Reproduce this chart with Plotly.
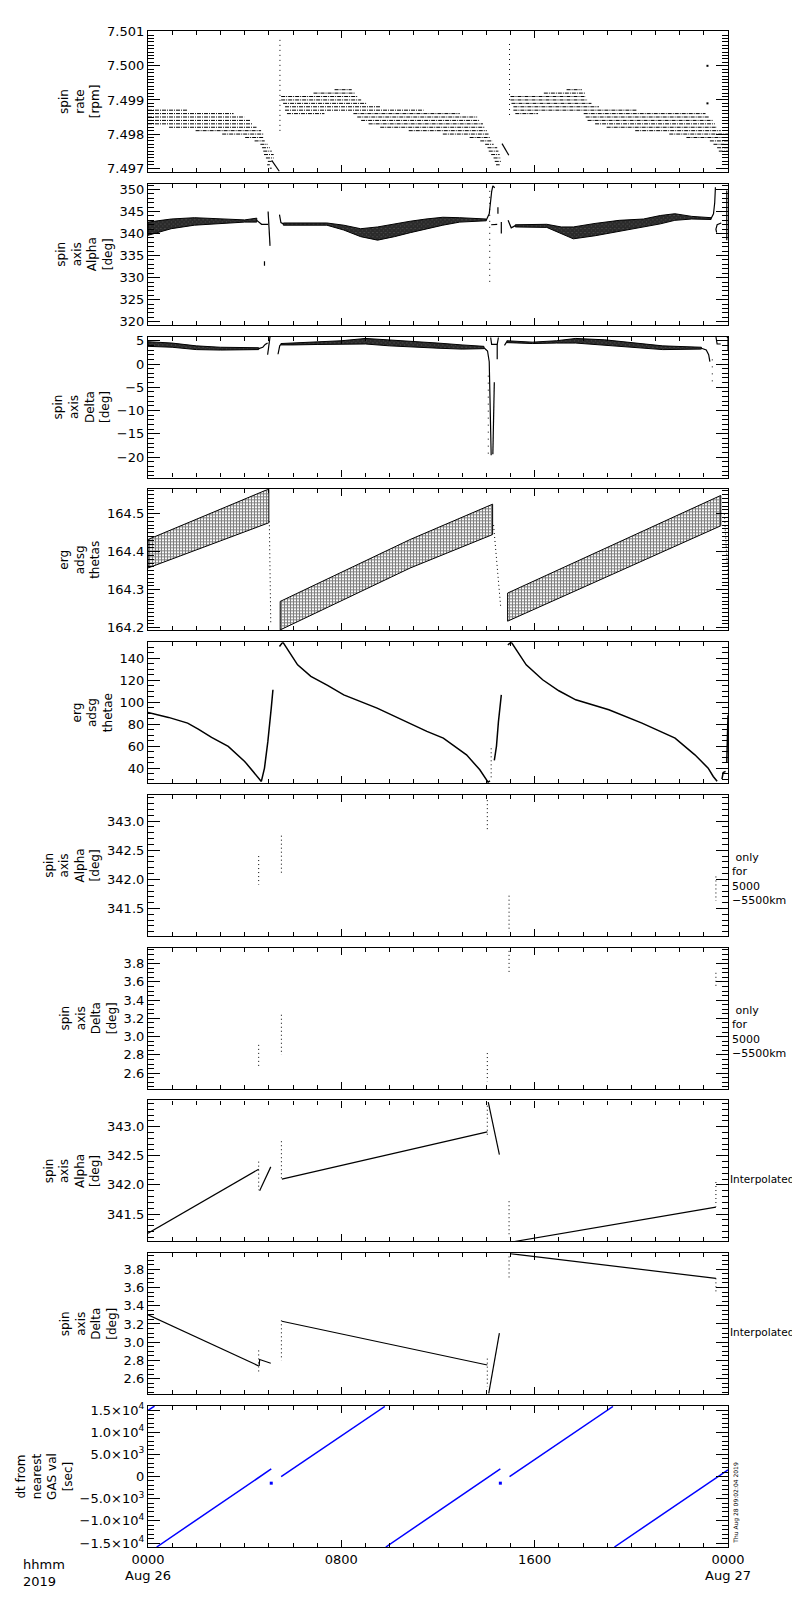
import plotly.graph_objects as go
from plotly.subplots import make_subplots

# ---- data (time in hours from 0000 Aug 26) ---------------------------------

HOUR_TICKS = [0, 8, 16, 24]
HOUR_TEXT = ["0000", "0800", "1600", "0000"]
DATE_TEXT = ["Aug 26", "", "", "Aug 27"]

# panel 1: spin rate, quantised rows (level, start, end)
SR_LEVEL = [7.4987, 7.4986, 7.4985, 7.4984, 7.4983, 7.4982, 7.4981, 7.4980, 7.4979,
            7.4978, 7.4977, 7.4976, 7.4975, 7.4974, 7.4973, 7.4972, 7.4971, 7.4970,
            7.4993, 7.4992, 7.4991, 7.4990, 7.4989, 7.4988, 7.4987, 7.4986, 7.4986,
            7.4985, 7.4984, 7.4983, 7.4982, 7.4981, 7.4980, 7.4979, 7.4978, 7.4977,
            7.4976, 7.4975, 7.4974, 7.4973, 7.4972, 7.4971,
            7.4993, 7.4992, 7.4991, 7.4990, 7.4989, 7.4988, 7.4987, 7.4986, 7.4986,
            7.4985, 7.4984, 7.4983, 7.4982, 7.4981, 7.4980, 7.4979, 7.4978, 7.4977,
            7.4976, 7.4975]
SR_T0 = [0.0, 0.0, 0.0, 0.0, 0.0, 0.87, 1.97, 3.07, 4.02,
         4.41, 4.65, 4.72, 4.77, 4.80, 4.88, 4.96, 4.93, 5.04,
         7.72, 6.85, 5.51, 5.51, 5.59, 5.67, 5.67, 5.75, 8.50,
         8.66, 8.82, 9.13, 9.61, 10.79, 12.20, 13.31, 13.75, 13.95,
         14.05, 14.10, 14.20, 14.30, 14.35, 14.40,
         17.32, 16.38, 15.00, 15.00, 15.04, 15.12, 15.12, 15.20, 18.03,
         18.11, 18.19, 18.50, 18.98, 20.16, 21.57, 22.28, 23.25, 23.40,
         23.55, 23.62]
SR_T1 = [1.65, 3.54, 3.98, 4.25, 4.33, 4.49, 4.68, 4.77, 4.80,
         4.83, 4.96, 5.04, 5.12, 5.20, 5.20, 5.12, 5.04, 5.12,
         8.43, 8.55, 8.66, 8.82, 9.05, 9.60, 11.40, 7.30, 12.90,
         13.62, 13.70, 13.86, 13.94, 14.02, 14.09, 14.17, 14.25, 14.30,
         14.45, 14.50, 14.55, 14.60, 14.60, 14.55,
         17.95, 18.11, 18.11, 18.19, 18.35, 18.66, 20.24, 16.14, 23.07,
         23.23, 23.39, 23.46, 23.54, 23.70, 24.00, 24.00, 24.00, 24.00,
         24.00, 24.00]
SR_SPIKE_T = [5.46, 14.96]
SR_SPIKE_TOP = [7.50076, 7.50064]
SR_SPIKE_BOT = [7.4980, 7.4985]
SR_DIAG_T = [5.12, 5.43, None, 14.65, 14.93]
SR_DIAG_V = [7.49723, 7.49691, None, 7.49772, 7.49738]
SR_DOT_T = [23.15, 23.15]
SR_DOT_V = [7.5000, 7.4989]

# panel 2: spin axis alpha
ALPHA_BAND_T = [0, 0.96, 1.92, 2.6, 4.0, 4.5, None,
                5.6, 7.4, 8.1, 8.8, 9.5, 10.2, 10.85, 11.5, 12.2, 12.9, 14.0, None,
                15.2, 16.5, 17.1, 17.6, 18.5, 19.5, 20.5, 21.2, 21.8, 22.5, 23.3]
ALPHA_BAND_LO = [339.6, 341.1, 341.9, 342.2, 342.6, 342.6, None,
                 341.9, 341.9, 340.8, 339.3, 338.5, 339.3, 340.2, 341.1, 341.9, 342.6, 342.9, None,
                 341.5, 341.4, 340.0, 338.8, 339.5, 340.6, 341.5, 342.2, 343.0, 343.3, 343.2]
ALPHA_BAND_HI = [342.6, 343.3, 343.6, 343.4, 343.1, 343.5, None,
                 342.4, 342.4, 341.9, 341.1, 341.5, 342.2, 342.8, 343.3, 343.7, 343.6, 343.3, None,
                 342.0, 342.1, 341.5, 341.5, 342.3, 343.0, 343.3, 344.1, 344.5, 343.9, 343.6]
ALPHA_LINE_T = [4.5, 4.7, 4.97, None, 4.97, 5.05, None, 4.82, 4.82, None,
                5.44, 5.5, 5.6, None, 14.0, 14.12, 14.22, 14.27, 14.35, None,
                14.2, 14.45, None, 14.48, 14.48, None, 14.62, 14.62, None,
                14.9, 15.03, 15.2, None, 23.3, 23.4, 23.45, 23.48, None,
                23.72, 23.55, 23.5, 23.53, None, 23.95, 23.95]
ALPHA_LINE_V = [343.0, 342.1, 342.1, None, 345.0, 337.2, None, 333.7, 332.7, None,
                344.3, 342.5, 342.2, None, 343.1, 344.5, 349.5, 350.8, 350.4, None,
                342.0, 342.1, None, 346.0, 344.5, None, 342.6, 340.0, None,
                343.0, 341.3, 341.8, None, 343.4, 344.5, 347.0, 350.5, None,
                342.4, 342.0, 341.0, 340.2, None, 349.8, 338.5]
ALPHA_DOT_T = [14.14]
ALPHA_DOT_TOP = [349.7]
ALPHA_DOT_BOT = [328.1]

# panel 3: spin axis delta
DELTA_BAND_T = [0, 1.0, 2.0, 3.0, 4.58, None,
                5.5, 6, 7, 8, 9, 10, 11, 12, 13, 13.9, None,
                14.85, 15.9, 16.9, 17.7, 18.9, 19.9, 21.3, 22.9]
DELTA_BAND_LO = [3.8, 3.6, 3.1, 3.0, 3.1, None,
                 4.1, 4.1, 4.2, 4.3, 4.3, 3.9, 3.6, 3.4, 3.2, 3.3, None,
                 4.6, 4.4, 4.5, 4.5, 4.1, 3.6, 3.1, 3.2]
DELTA_BAND_HI = [4.8, 4.5, 3.9, 3.6, 3.5, None,
                 4.4, 4.5, 4.8, 5.0, 5.5, 5.2, 4.8, 4.5, 4.1, 3.8, None,
                 5.0, 4.7, 5.0, 5.5, 5.2, 4.6, 3.9, 3.6]
DELTA_LINE_T = [4.58, 4.75, 4.85, 4.95, None, 5.05, 4.95, None, 5.38, 5.4, 5.45, 5.5, None,
                13.9, 14.05, 14.12, 14.2, None, 14.33, 14.27, None,
                14.18, 14.22, 14.45, 14.5, None, 14.45, 14.45, None, 14.75, 14.85, None,
                22.9, 23.1, 23.2, 23.25, None, 23.5, 23.55, 23.7, None, 23.95, 24.0, 24.0]
DELTA_LINE_V = [3.3, 3.6, 4.2, 4.5, None, 5.9, 2.0, None, 2.1, 2.9, 3.9, 4.2, None,
                3.5, 2.8, 0.5, -19.6, None, -3.9, -19.4, None,
                5.7, 4.2, 4.2, 5.7, None, 4.2, 1.0, None, 4.0, 4.8, None,
                3.4, 3.0, 2.0, 0.5, None, 5.9, 4.3, 4.3, None, 5.7, 5.7, 3.0]
DELTA_DOT_T = [14.08, 23.35]
DELTA_DOT_TOP = [-2.5, 1.0]
DELTA_DOT_BOT = [-20.4, -4.3]

# panel 4: erg adsg thetas
THETAS_T = [0, 5.0, None, 5.47, 10.85, 14.26, None, 14.88, 23.7]
THETAS_LO = [164.357, 164.476, None, 164.194, 164.357, 164.445, None, 164.217, 164.468]
THETAS_HI = [164.432, 164.565, None, 164.269, 164.432, 164.525, None, 164.291, 164.548]
THETAS_DROP_T = [5.02, 5.08, None, 14.3, 14.45, 14.6, None, 23.85, 24.0]
THETAS_DROP_V = [164.48, 164.21, None, 164.47, 164.36, 164.25, None, 164.5, 164.33]

# panel 5: erg adsg thetae
THETAE_T = [0, 0.85, 1.64, 2.08, 2.63, 3.32, 4.0, 4.41, 4.69, 4.82, 4.96, 5.1, 5.17, None,
            5.44, 5.58, 6.19, 6.74, 7.43, 8.1, 9.48, 10.85, 11.54, 12.22, 13.18, 13.73, 14.07, 14.15, None,
            14.33, 14.42, 14.5, 14.62, None,
            14.89, 15.03, 15.65, 16.33, 17.0, 17.7, 19.07, 20.44, 21.81, 22.63, 23.18, 23.39, 23.55, None,
            23.75, 23.8, 23.9, None, 23.95, 24.0]
THETAE_V = [90.6, 86.1, 80.9, 75.5, 67.9, 59.7, 46.1, 35.5, 27.9, 40.0, 64.3, 94.5, 111.2, None,
            150.6, 154.5, 133.9, 123.4, 115.2, 106.6, 94.5, 80.0, 73.4, 67.3, 52.1, 38.5, 27.3, 28.5, None,
            47.0, 60.0, 82.0, 106.6, None,
            152.0, 154.5, 133.9, 120.3, 110.3, 102.1, 93.0, 80.9, 67.3, 52.1, 40.0, 32.4, 28.0, None,
            30.0, 36.0, 37.0, None, 45.0, 88.0]
THETAE_DOT_T = [14.2]
THETAE_DOT_TOP = [58.0]
THETAE_DOT_BOT = [30.0]

# panels 6/7: values only for 5000-5500 km
ONLY_T = [4.58, 5.52, 14.04, 14.94, 23.5]
ONLY_A_TOP = [342.40, 342.75, 343.36, 341.72, 342.05]
ONLY_A_BOT = [341.91, 342.10, 342.84, 341.10, 341.63]
ONLY_D_TOP = [2.91, 3.24, 2.82, 3.94, 3.70]
ONLY_D_BOT = [2.67, 2.80, 2.51, 3.70, 3.53]

# panels 8/9: interpolated
INTERP_A_T = [0, 4.58, None, 4.62, 5.08, None, 5.54, 14.04, None, 14.08, 14.54, None, 15.04, 23.5]
INTERP_A_V = [341.17, 342.27, None, 341.90, 342.31, None, 342.10, 342.91, None,
              343.42, 342.52, None, 341.02, 341.62]
INTERP_D_T = [0, 4.58, None, 4.60, 4.62, 5.08, None, 5.54, 14.04, None, 14.1, 14.54, None, 14.98, 23.5]
INTERP_D_V = [3.30, 2.74, None, 2.74, 2.81, 2.77, None, 3.23, 2.75, None, 2.44, 3.10, None, 3.97, 3.70]

# panel 10: dt from nearest GAS val
GAS_T = [0, 0.27, None, 0.36, 5.1, None, 5.51, 9.8, None, 9.84, 14.58, None,
         14.96, 19.24, None, 19.3, 24.0]
GAS_V = [14900, 15900, None, -15900, 1700, None, 0, 15800, None, -15900, 1700, None,
         0, 15800, None, -15900, 1500]
GAS_DOT_T = [5.1, 14.58]
GAS_DOT_V = [-1500, -1500]
GAS_TICKS = [-15000, -10000, -5000, 0, 5000, 10000, 15000]
GAS_TICKTEXT = ["\u22121.5\u00d710<sup>4</sup>", "\u22121.0\u00d710<sup>4</sup>",
                "\u22125.0\u00d710<sup>3</sup>", "0", "5.0\u00d710<sup>3</sup>",
                "1.0\u00d710<sup>4</sup>", "1.5\u00d710<sup>4</sup>"]


# ---- helpers --------------------------------------------------------------

def rows_xy(levels, t0, t1):
    xs, ys = [], []
    for v, a, b in zip(levels, t0, t1):
        xs += [a, b, None]
        ys += [v, v, None]
    return xs, ys


def vsegs(ts, top, bot):
    xs, ys = [], []
    for t, a, b in zip(ts, top, bot):
        xs += [t, t, None]
        ys += [a, b, None]
    return xs, ys


def band_xy(ts, lo, hi):
    xs, ys = [], []
    start = 0
    for i in range(len(ts) + 1):
        if i == len(ts) or ts[i] is None:
            t, l, h = ts[start:i], lo[start:i], hi[start:i]
            xs += t + t[::-1] + [t[0], None]
            ys += h + l[::-1] + [h[0], None]
            start = i + 1
    return xs, ys


BLACK = "#000000"
FONT = "DejaVu Sans"

fig = make_subplots(rows=10, cols=1, shared_xaxes=True, vertical_spacing=0.0078)


def line(row, x, y, width=1.0, dash=None, color=BLACK):
    fig.add_trace(go.Scatter(x=x, y=y, mode="lines",
                             line=dict(color=color, width=width, dash=dash),
                             showlegend=False, hoverinfo="skip"), row=row, col=1)


def band(row, x, y, shape, size, solidity, bg="white"):
    fig.add_trace(go.Scatter(x=x, y=y, mode="lines", fill="toself",
                             line=dict(color=BLACK, width=1),
                             fillcolor="white",
                             fillpattern=dict(shape=shape, fgcolor=BLACK, bgcolor=bg,
                                              size=size, solidity=solidity),
                             showlegend=False, hoverinfo="skip"), row=row, col=1)


# 1 spin rate
x, y = rows_xy(SR_LEVEL, SR_T0, SR_T1)
line(1, x, y, 1.0, "4px,1px,1px,1px")
x, y = vsegs(SR_SPIKE_T, SR_SPIKE_TOP, SR_SPIKE_BOT)
line(1, x, y, 1.0, "1px,4px")
line(1, SR_DIAG_T, SR_DIAG_V, 1.2)
fig.add_trace(go.Scatter(x=SR_DOT_T, y=SR_DOT_V, mode="markers",
                         marker=dict(color=BLACK, size=2, symbol="square"),
                         showlegend=False, hoverinfo="skip"), row=1, col=1)

# 2 spin axis alpha
x, y = band_xy(ALPHA_BAND_T, ALPHA_BAND_LO, ALPHA_BAND_HI)
band(2, x, y, "x", 3, 0.9, "#555555")
line(2, ALPHA_LINE_T, ALPHA_LINE_V, 1.2)
x, y = vsegs(ALPHA_DOT_T, ALPHA_DOT_TOP, ALPHA_DOT_BOT)
line(2, x, y, 1.0, "1px,5px")

# 3 spin axis delta
x, y = band_xy(DELTA_BAND_T, DELTA_BAND_LO, DELTA_BAND_HI)
band(3, x, y, "x", 3, 0.9, "#555555")
line(3, DELTA_LINE_T, DELTA_LINE_V, 1.2)
x, y = vsegs(DELTA_DOT_T, DELTA_DOT_TOP, DELTA_DOT_BOT)
line(3, x, y, 1.0, "1px,6px")

# 4 thetas
x, y = band_xy(THETAS_T, THETAS_LO, THETAS_HI)
band(4, x, y, "+", 3, 0.6)
line(4, THETAS_DROP_T, THETAS_DROP_V, 1.0, "1px,3px")

# 5 thetae
line(5, THETAE_T, THETAE_V, 1.5)
x, y = vsegs(THETAE_DOT_T, THETAE_DOT_TOP, THETAE_DOT_BOT)
line(5, x, y, 1.0, "1px,3px")

# 6/7 only for 5000-5500 km
x, y = vsegs(ONLY_T, ONLY_A_TOP, ONLY_A_BOT)
line(6, x, y, 1.0, "1px,3px")
line(8, x, y, 1.0, "1px,3px")
x, y = vsegs(ONLY_T, ONLY_D_TOP, ONLY_D_BOT)
line(7, x, y, 1.0, "1px,3px")
line(9, x, y, 1.0, "1px,3px")

# 8/9 interpolated
line(8, INTERP_A_T, INTERP_A_V, 1.2)
line(9, INTERP_D_T, INTERP_D_V, 1.2)

# 10 dt from GAS
line(10, GAS_T, GAS_V, 1.5, None, "#0000ff")
fig.add_trace(go.Scatter(x=GAS_DOT_T, y=GAS_DOT_V, mode="markers",
                         marker=dict(color="#0000ff", size=3, symbol="square"),
                         showlegend=False, hoverinfo="skip"), row=10, col=1)

# ---- axes -----------------------------------------------------------------

TITLES = ["spin<br>rate<br>[rpm]", "spin<br>axis<br>Alpha<br>[deg]",
          "spin<br>axis<br>Delta<br>[deg]", "erg<br>adsg<br>thetas",
          "erg<br>adsg<br>thetae", "spin<br>axis<br>Alpha<br>[deg]",
          "spin<br>axis<br>Delta<br>[deg]", "spin<br>axis<br>Alpha<br>[deg]",
          "spin<br>axis<br>Delta<br>[deg]", "dt from<br>nearest<br>GAS val<br>[sec]"]
YRANGE = [[7.49689, 7.50102], [319.3, 351.3], [-24.4, 5.9], [164.193, 164.564],
          [26.4, 154.5], [341.03, 343.45], [2.43, 3.975], [341.03, 343.45],
          [2.43, 3.975], [-15900, 15900]]
YDTICK = [0.001, 5, 5, 0.1, 20, 0.5, 0.2, 0.5, 0.2, 5000]
YTICK0 = [7.497, 0, 0, 164.0, 0, 341.0, 2.0, 341.0, 2.0, 0]
YMINOR = [0.0001, 1, 1, 0.01, 5, 0.1, 0.05, 0.1, 0.05, 1000]
YFMT = [".3f", "d", "d", ".1f", "d", ".1f", ".1f", ".1f", ".1f", ""]

for i in range(10):
    r = i + 1
    kw = dict(range=YRANGE[i], tickmode="linear", tick0=YTICK0[i], dtick=YDTICK[i],
              tickformat=YFMT[i])
    if r == 10:
        kw = dict(range=YRANGE[i], tickmode="array", tickvals=GAS_TICKS,
                  ticktext=GAS_TICKTEXT)
    fig.update_yaxes(row=r, col=1, **kw,
                     ticks="inside", ticklen=12, tickwidth=1, tickcolor=BLACK,
                     minor=dict(tickmode="linear", tick0=YTICK0[i], dtick=YMINOR[i],
                                ticks="inside", ticklen=6, tickcolor=BLACK, showgrid=False),
                     showline=True, linecolor=BLACK, linewidth=1.2, mirror="allticks",
                     showgrid=False, zeroline=False,
                     tickfont=dict(family=FONT, size=13, color=BLACK),
                     title=dict(text=TITLES[i], font=dict(family=FONT, size=12, color=BLACK),
                                standoff=4))

fig.update_xaxes(range=[0, 24], tickmode="array", tickvals=HOUR_TICKS, ticktext=HOUR_TEXT,
                 ticks="inside", ticklen=7, tickwidth=1, tickcolor=BLACK,
                 minor=dict(tickmode="linear", tick0=0, dtick=1, ticks="inside",
                            ticklen=4, tickcolor=BLACK, showgrid=False),
                 showline=True, linecolor=BLACK, linewidth=1.2, mirror="allticks",
                 showgrid=False, zeroline=False,
                 tickfont=dict(family=FONT, size=13, color=BLACK))

# ---- text -----------------------------------------------------------------

ann = []
for t, d in zip(HOUR_TICKS, DATE_TEXT):
    if d:
        ann.append(dict(x=t, xref="x10", y=-0.0128, yref="paper", text=d,
                        showarrow=False, xanchor="center", yanchor="top",
                        font=dict(family=FONT, size=13, color=BLACK)))
ann.append(dict(x=-0.219, xref="paper", y=-0.0055, yref="paper", text="hhmm<br>2019",
                showarrow=False, xanchor="left", yanchor="top", align="left",
                font=dict(family=FONT, size=13, color=BLACK)))
for r in (6, 7):
    ann.append(dict(x=1.004, xref="paper", y=0.40, yref=f"y{r} domain",
                    text=" only<br>for<br>5000<br>\u22125500km", align="left",
                    showarrow=False, xanchor="left", yanchor="middle",
                    font=dict(family=FONT, size=11, color=BLACK)))
for r in (8, 9):
    ann.append(dict(x=1.0, xref="paper", y=0.44, yref=f"y{r} domain",
                    text="Interpolated", align="left",
                    showarrow=False, xanchor="left", yanchor="middle",
                    font=dict(family=FONT, size=10.5, color=BLACK)))
ann.append(dict(x=1.002, xref="paper", y=0.01, yref="y10 domain",
                text="Thu Aug 28 09:02:04 2019", textangle=-90,
                showarrow=False, xanchor="left", yanchor="bottom",
                font=dict(family=FONT, size=6, color=BLACK)))

fig.update_layout(width=800, height=1600,
                  margin=dict(l=136, r=80, t=23, b=61),
                  plot_bgcolor="white", paper_bgcolor="white",
                  font=dict(family=FONT, color=BLACK),
                  annotations=ann, showlegend=False)

fig.write_html("out.html")
